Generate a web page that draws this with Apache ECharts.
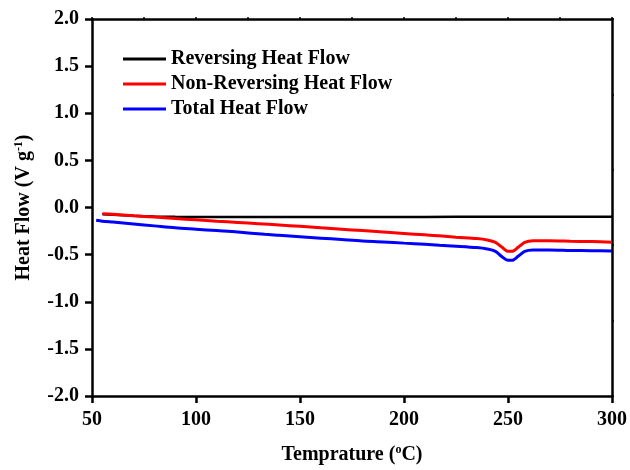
<!DOCTYPE html>
<html>
<head>
<meta charset="utf-8">
<script src="https://cdn.jsdelivr.net/npm/echarts@6/dist/echarts.min.js"></script>
<style>html,body{margin:0;padding:0;background:#fff}#c{width:630px;height:470px}</style>
</head>
<body>
<div id="c"></div>
<script>
var seriesNames = ['Reversing Heat Flow', 'Non-Reversing Heat Flow', 'Total Heat Flow'];
var revT = [55, 60, 70, 80, 90, 100, 120, 150, 180, 210, 240, 250, 260, 280, 300];
var revV = [-0.072, -0.078, -0.088, -0.095, -0.099, -0.101, -0.102, -0.102, -0.101, -0.100, -0.098, -0.097, -0.097, -0.097, -0.097];
var nonT = [55, 60, 70, 80, 90, 100, 110, 120, 130, 140, 150, 160, 170, 180, 190, 200, 210, 217, 225, 235, 240, 244, 247, 250, 252, 255, 258, 262, 270, 280, 290, 300];
var nonV = [-0.065, -0.072, -0.088, -0.102, -0.117, -0.13, -0.145, -0.158, -0.172, -0.186, -0.20, -0.215, -0.23, -0.245, -0.26, -0.275, -0.29, -0.30, -0.315, -0.33, -0.345, -0.37, -0.42, -0.465, -0.465, -0.42, -0.37, -0.352, -0.352, -0.357, -0.362, -0.368];
var totT = [52, 55, 60, 70, 80, 90, 100, 110, 120, 133, 140, 150, 160, 170, 180, 190, 200, 210, 217, 225, 235, 240, 244, 247, 250, 252, 255, 258, 262, 270, 280, 290, 300];
var totV = [-0.135, -0.145, -0.155, -0.175, -0.195, -0.215, -0.23, -0.245, -0.26, -0.285, -0.295, -0.31, -0.325, -0.34, -0.355, -0.365, -0.378, -0.39, -0.40, -0.41, -0.425, -0.44, -0.465, -0.52, -0.56, -0.56, -0.515, -0.465, -0.45, -0.45, -0.455, -0.458, -0.462];

function pairs(t, v) { return t.map(function (x, i) { return [x, v[i]]; }); }

var FONT = 'Liberation Serif';
var chart = echarts.init(document.getElementById('c'), null, { renderer: 'canvas' });
var lab = { fontFamily: FONT, fontWeight: 'bold', fontSize: 20, color: '#000' };
var axLine = { show: true, onZero: false, lineStyle: { color: '#000', width: 2.5 } };
var nameRich = {
  n: { fontFamily: FONT, fontWeight: 'bold', fontSize: 20, color: '#000' },
  s: { fontFamily: FONT, fontWeight: 'bold', fontSize: 12, color: '#000', verticalAlign: 'top', padding: [0, 0, 10, 0] }
};
chart.setOption({
  animation: false,
  backgroundColor: '#fff',
  grid: { left: 92, right: 16, top: 19, bottom: 69 },
  legend: {
    orient: 'vertical', left: 123, top: 49, itemGap: 5, padding: 0,
    itemWidth: 43, itemHeight: 3, icon: 'rect',
    textStyle: { fontFamily: FONT, fontWeight: 'bold', fontSize: 20, color: '#000' },
    data: seriesNames
  },
  xAxis: [{
    type: 'value', min: 50, max: 300, interval: 50, position: 'bottom',
    name: '{n|Temprature (}{s|o}{n|C)}', nameLocation: 'middle', nameGap: 48,
    nameTextStyle: { rich: nameRich },
    axisLine: axLine, axisTick: { show: true, length: 7, lineStyle: { width: 2.5, color: '#000' } },
    axisLabel: Object.assign({ margin: 14 }, lab), splitLine: { show: false }
  }, {
    type: 'value', min: 50, max: 300, interval: 25, position: 'top',
    axisLine: axLine, axisTick: { show: true, length: 2, lineStyle: { width: 1.5, color: '#000' } },
    axisLabel: { show: false }, splitLine: { show: false }
  }],
  yAxis: [{
    type: 'value', min: -2, max: 2, interval: 0.5, position: 'left',
    name: '{n|Heat Flow (V g}{s|-1}{n|)}', nameLocation: 'middle', nameGap: 57, nameRotate: 90,
    nameTextStyle: { rich: nameRich },
    axisLine: axLine, axisTick: { show: true, length: 7, lineStyle: { width: 2.5, color: '#000' } },
    axisLabel: Object.assign({ margin: 13, formatter: function (v) { return v.toFixed(1); } }, lab),
    splitLine: { show: false }
  }, {
    type: 'value', min: -2, max: 2, interval: 0.8, position: 'right',
    axisLine: axLine, axisTick: { show: true, length: 2, lineStyle: { width: 1.5, color: '#000' } },
    axisLabel: { show: false }, splitLine: { show: false }
  }],
  series: [
    { name: seriesNames[0], type: 'line', data: pairs(revT, revV), showSymbol: false, smooth: 0.3, lineStyle: { color: '#000', width: 2.5 }, itemStyle: { color: '#000' }, z: 1 },
    { name: seriesNames[1], type: 'line', data: pairs(nonT, nonV), showSymbol: false, smooth: 0.3, lineStyle: { color: '#ff0000', width: 3 }, itemStyle: { color: '#ff0000' }, z: 2 },
    { name: seriesNames[2], type: 'line', data: pairs(totT, totV), showSymbol: false, smooth: 0.3, lineStyle: { color: '#0000ff', width: 3 }, itemStyle: { color: '#0000ff' }, z: 3 }
  ]
});
</script>
</body>
</html>
